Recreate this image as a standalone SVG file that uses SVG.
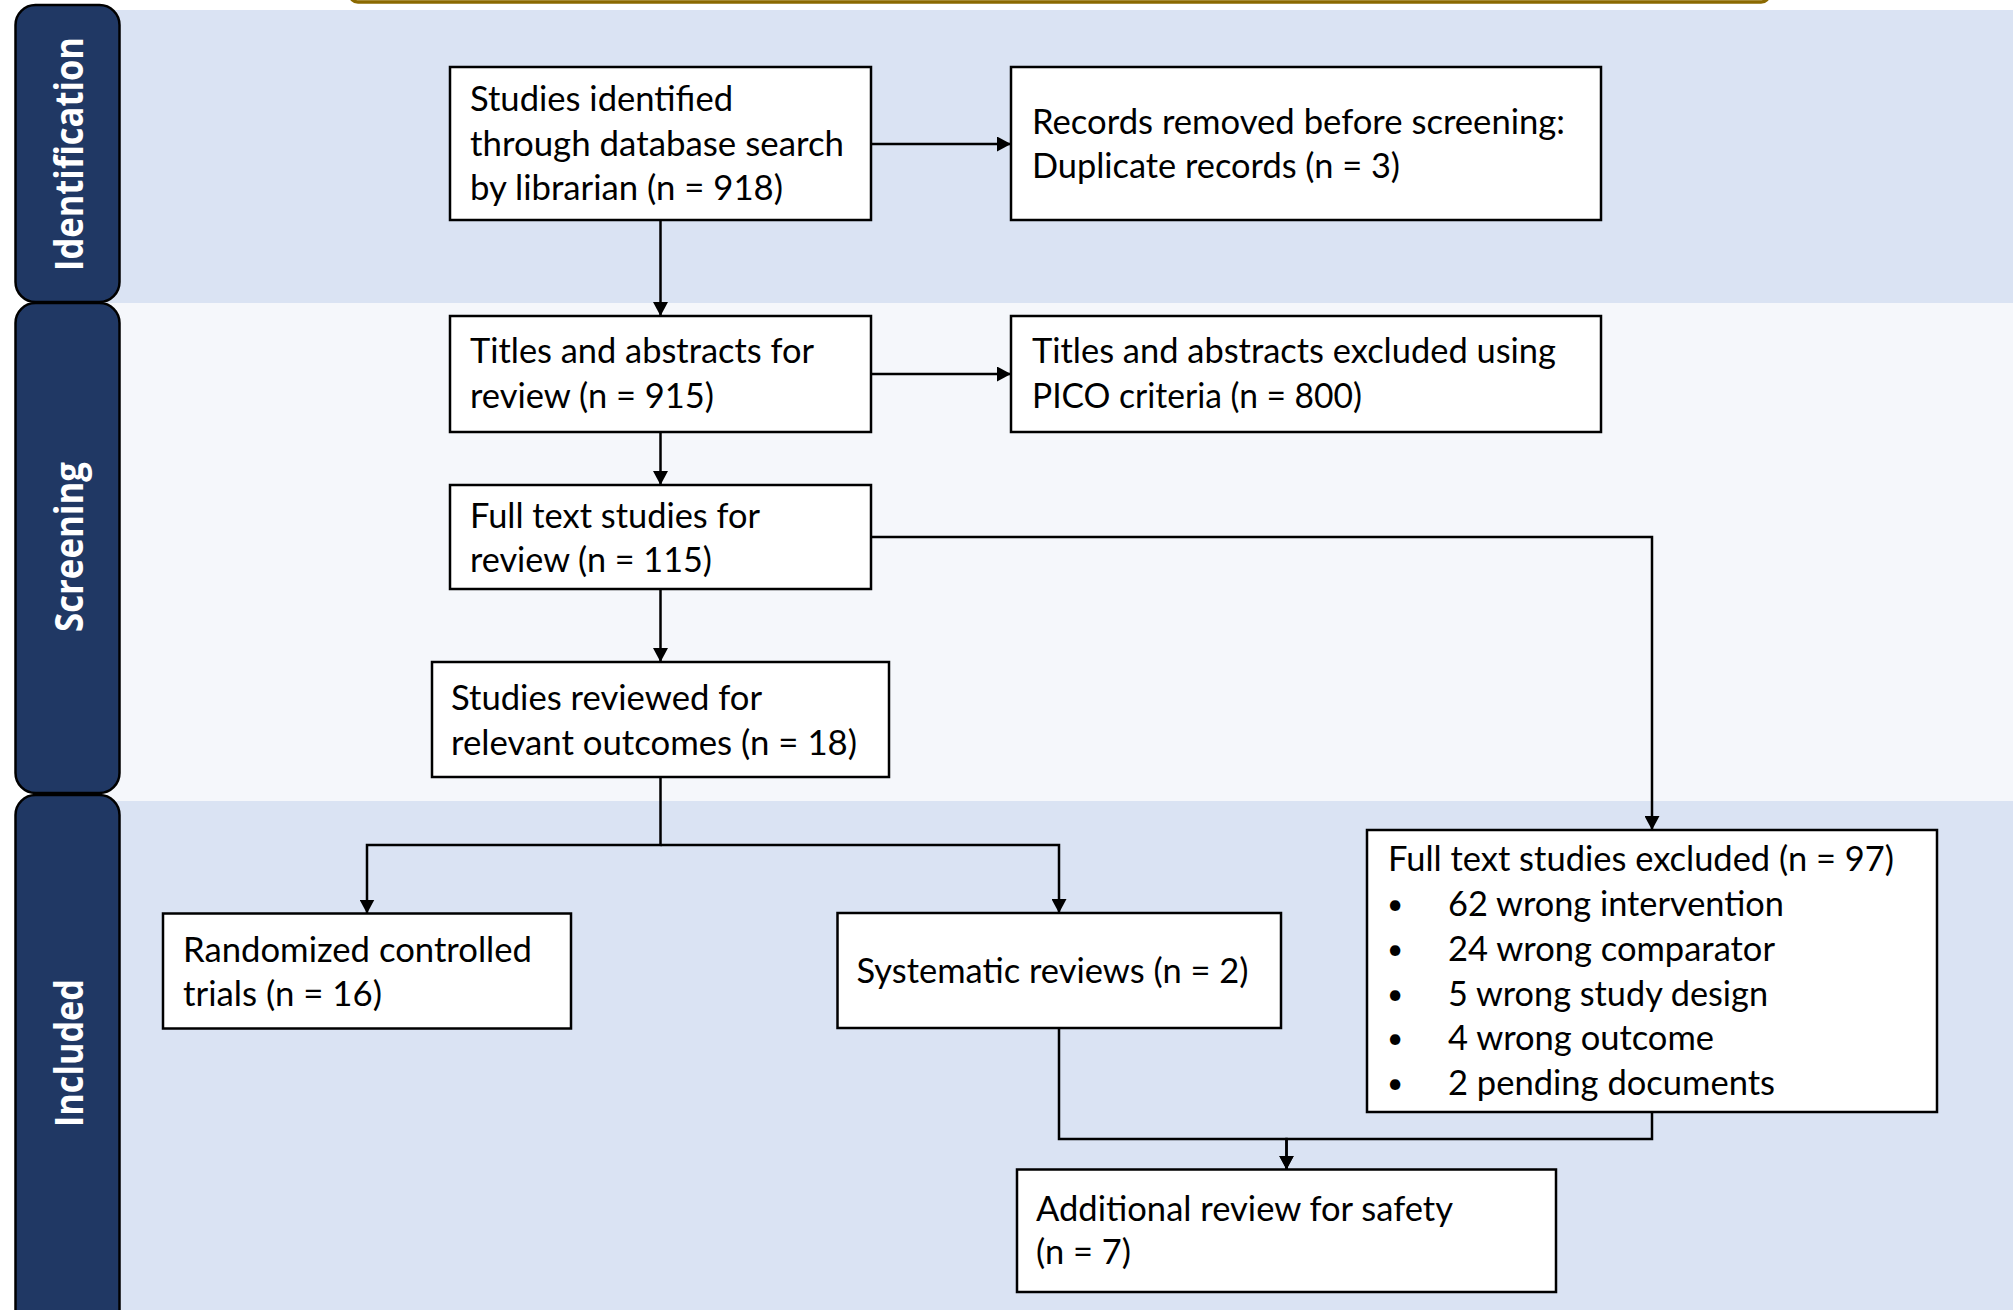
<svg xmlns="http://www.w3.org/2000/svg" width="2013" height="1310" viewBox="0 0 2013 1310">
  <defs>
    <marker id="arrow" viewBox="0 0 14 15" refX="14" refY="7.5" markerWidth="14" markerHeight="15" orient="auto" markerUnits="userSpaceOnUse">
      <path d="M0,0 L14,7.5 L0,15 Z" fill="#000"/>
    </marker>
    <style>
      .band1 { fill: #DAE3F3; }
      .band2 { fill: #F5F7FB; }
      .pill { fill: #203864; stroke: #000; stroke-width: 2.5; }
      .plabel { font-family: "Open Sans", "Liberation Sans", sans-serif; font-weight: 700; font-size: 40px; fill: #FFFFFF; text-anchor: middle; }
      .box { fill: #FFFFFF; stroke: #000; stroke-width: 2.5; }
      .t { font-family: Lato, "Liberation Sans", sans-serif; font-size: 34px; fill: #000; }
      .bul { font-family: Lato, "Liberation Sans", sans-serif; font-size: 28px; fill: #000; text-anchor: middle; }
      .conn { fill: none; stroke: #000; stroke-width: 2.5; }
    </style>
  </defs>

  <rect width="2013" height="1310" fill="#FFFFFF"/>
  <rect x="350" y="-40" width="1419" height="42" rx="8" fill="#FFF2CC" stroke="#8B6900" stroke-width="3.5"/>

  <g id="bands">
    <rect class="band1" x="60" y="10" width="1953" height="293"/>
    <rect class="band2" x="60" y="303" width="1953" height="498"/>
    <rect class="band1" x="60" y="801" width="1953" height="509"/>
  </g>

  <g id="lane-identification">
    <rect class="pill" x="15.5" y="5" width="104" height="297" rx="20"/>
    <text class="plabel" transform="translate(83,154) rotate(-90)" textLength="234" lengthAdjust="spacingAndGlyphs">Identification</text>
  </g>
  <g id="lane-screening">
    <rect class="pill" x="15.5" y="303" width="104" height="490" rx="20"/>
    <text class="plabel" transform="translate(83,547) rotate(-90)" textLength="170" lengthAdjust="spacingAndGlyphs">Screening</text>
  </g>
  <g id="lane-included">
    <rect class="pill" x="15.5" y="795" width="104" height="535" rx="20"/>
    <text class="plabel" transform="translate(83,1053) rotate(-90)" textLength="148" lengthAdjust="spacingAndGlyphs">Included</text>
  </g>

  <g id="connectors">
    <path class="conn" d="M660.5,220 V316" marker-end="url(#arrow)"/>
    <path class="conn" d="M871,144 H1011" marker-end="url(#arrow)"/>
    <path class="conn" d="M871,374 H1011" marker-end="url(#arrow)"/>
    <path class="conn" d="M660.5,432 V485" marker-end="url(#arrow)"/>
    <path class="conn" d="M660.5,589 V662" marker-end="url(#arrow)"/>
    <path class="conn" d="M871,537 H1652 V830" marker-end="url(#arrow)"/>
    <path class="conn" d="M660.5,777 V845 H367 V913.5" marker-end="url(#arrow)"/>
    <path class="conn" d="M660.5,845 H1059 V913" marker-end="url(#arrow)"/>
    <path class="conn" d="M1059,1028 V1139 H1286.5 V1169.5" marker-end="url(#arrow)"/>
    <path class="conn" d="M1652,1112 V1139 H1286.5 V1169.5" marker-end="url(#arrow)"/>
  </g>

  <g id="node-identified">
    <rect class="box" x="450" y="67" width="421" height="153"/>
    <text class="t" x="470" y="111" textLength="263" lengthAdjust="spacingAndGlyphs">Studies identified</text>
    <text class="t" x="470" y="155.5" textLength="374" lengthAdjust="spacingAndGlyphs">through database search</text>
    <text class="t" x="470" y="200" textLength="313" lengthAdjust="spacingAndGlyphs">by librarian (n = 918)</text>
  </g>

  <g id="node-removed">
    <rect class="box" x="1011" y="67" width="590" height="153"/>
    <text class="t" x="1032" y="134" textLength="533" lengthAdjust="spacingAndGlyphs">Records removed before screening:</text>
    <text class="t" x="1032" y="178" textLength="368" lengthAdjust="spacingAndGlyphs">Duplicate records (n = 3)</text>
  </g>

  <g id="node-titles">
    <rect class="box" x="450" y="316" width="421" height="116"/>
    <text class="t" x="470" y="363" textLength="344" lengthAdjust="spacingAndGlyphs">Titles and abstracts for</text>
    <text class="t" x="470" y="408" textLength="244" lengthAdjust="spacingAndGlyphs">review (n = 915)</text>
  </g>

  <g id="node-pico">
    <rect class="box" x="1011" y="316" width="590" height="116"/>
    <text class="t" x="1032" y="363" textLength="524" lengthAdjust="spacingAndGlyphs">Titles and abstracts excluded using</text>
    <text class="t" x="1032" y="408" textLength="330" lengthAdjust="spacingAndGlyphs">PICO criteria (n = 800)</text>
  </g>

  <g id="node-fulltext">
    <rect class="box" x="450" y="485" width="421" height="104"/>
    <text class="t" x="470" y="527.5" textLength="290" lengthAdjust="spacingAndGlyphs">Full text studies for</text>
    <text class="t" x="470" y="571.5" textLength="242" lengthAdjust="spacingAndGlyphs">review (n = 115)</text>
  </g>

  <g id="node-reviewed">
    <rect class="box" x="432" y="662" width="457" height="115"/>
    <text class="t" x="451" y="710" textLength="311" lengthAdjust="spacingAndGlyphs">Studies reviewed for</text>
    <text class="t" x="451" y="755" textLength="406" lengthAdjust="spacingAndGlyphs">relevant outcomes (n = 18)</text>
  </g>

  <g id="node-rct">
    <rect class="box" x="163" y="913.5" width="408" height="115"/>
    <text class="t" x="183" y="962" textLength="349" lengthAdjust="spacingAndGlyphs">Randomized controlled</text>
    <text class="t" x="183" y="1006" textLength="199" lengthAdjust="spacingAndGlyphs">trials (n = 16)</text>
  </g>

  <g id="node-systematic">
    <rect class="box" x="837.5" y="913" width="443.5" height="115"/>
    <text class="t" x="856.5" y="983" textLength="392" lengthAdjust="spacingAndGlyphs">Systematic reviews (n = 2)</text>
  </g>

  <g id="node-excluded">
    <rect class="box" x="1367" y="830" width="570" height="282"/>
    <text class="t" x="1388" y="870.5" textLength="506" lengthAdjust="spacingAndGlyphs">Full text studies excluded (n = 97)</text>
    <text class="bul" x="1395" y="913.5">•</text>
    <text class="t" x="1448" y="915.5" textLength="336" lengthAdjust="spacingAndGlyphs">62 wrong intervention</text>
    <text class="bul" x="1395" y="958.5">•</text>
    <text class="t" x="1448" y="960.5" textLength="327" lengthAdjust="spacingAndGlyphs">24 wrong comparator</text>
    <text class="bul" x="1395" y="1003.5">•</text>
    <text class="t" x="1448" y="1005.5" textLength="320" lengthAdjust="spacingAndGlyphs">5 wrong study design</text>
    <text class="bul" x="1395" y="1048">•</text>
    <text class="t" x="1448" y="1050" textLength="266" lengthAdjust="spacingAndGlyphs">4 wrong outcome</text>
    <text class="bul" x="1395" y="1092.5">•</text>
    <text class="t" x="1448" y="1094.5" textLength="327" lengthAdjust="spacingAndGlyphs">2 pending documents</text>
  </g>

  <g id="node-additional">
    <rect class="box" x="1017" y="1169.5" width="539" height="122.5"/>
    <text class="t" x="1036" y="1221" textLength="417" lengthAdjust="spacingAndGlyphs">Additional review for safety</text>
    <text class="t" x="1036" y="1264" textLength="95" lengthAdjust="spacingAndGlyphs">(n = 7)</text>
  </g>
</svg>
